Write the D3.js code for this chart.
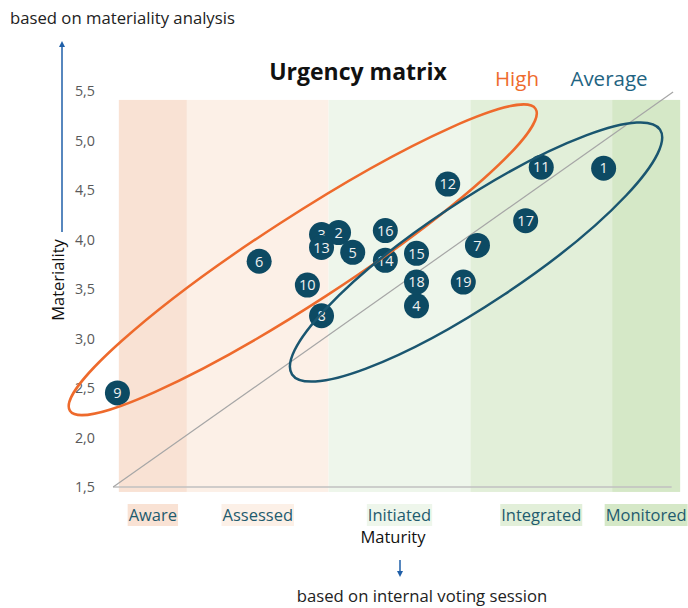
<!DOCTYPE html>
<html>
<head>
<meta charset="utf-8">
<script src="https://cdn.jsdelivr.net/npm/d3@7"></script>
<style>
  html, body { margin: 0; padding: 0; background: #fff; }
  #chart { width: 688px; height: 608px; }
  text { font-family: "Open Sans", "Noto Sans", sans-serif; }
</style>
</head>
<body>
<div id="chart"></div>
<script>
// maturity bands (x extent in maturity units)
const bandNames = ["Aware", "Assessed", "Initiated", "Integrated", "Monitored"];
const bandStart = [1.52, 2, 3, 4, 5];
const bandEnd = [2, 3, 4, 5, 5.48];
const bandColors = ["#f9e2d4", "#fcf0e7", "#eef6eb", "#e2efd9", "#d5e8c7"];

// topics: id, maturity, materiality
const topicIds = [1, 2, 3, 4, 5, 6, 7, 8, 9, 10, 11, 12, 13, 14, 15, 16, 17, 18, 19];
const maturity = [4.94, 3.07, 2.95, 3.62, 3.17, 2.51, 4.05, 2.95, 1.51, 2.85, 4.50, 3.84, 2.95, 3.40, 3.62, 3.40, 4.39, 3.62, 3.95];
const materiality = [4.72, 4.07, 4.05, 3.33, 3.87, 3.78, 3.94, 3.23, 2.45, 3.54, 4.73, 4.56, 3.92, 3.79, 3.86, 4.09, 4.19, 3.57, 3.57];

const yTicks = [1.5, 2.0, 2.5, 3.0, 3.5, 4.0, 4.5, 5.0, 5.5];

// urgency groups drawn as ellipses: major axis ends (data) + half width (px)
const groupNames = ["High", "Average"];
const groupColors = ["#ee6a2c", "#1a5670"];
const groupEnds = [[[1.175, 2.27], [4.46, 5.32]], [[2.742, 2.637], [5.338, 5.11]]];
const groupHalfWidth = [43, 51];

function renderChart(selector = "#chart") {
    const container = d3.select(selector);
    container.html("");

    const width = 688;
    const height = 608;

    const svg = container.append("svg")
        .attr("width", width)
        .attr("height", height)
        .attr("viewBox", `0 0 ${width} ${height}`);

    const x = d3.scaleLinear().domain([1.5, 5.5]).range([116, 683]);
    const y = d3.scaleLinear().domain([1.5, 5.5]).range([487, 91]);

    // background bands
    svg.append("g")
        .selectAll("rect")
        .data(bandNames)
        .join("rect")
        .attr("x", (d, i) => x(bandStart[i]))
        .attr("width", (d, i) => x(bandEnd[i]) - x(bandStart[i]))
        .attr("y", y(5.41))
        .attr("height", y(1.45) - y(5.41))
        .attr("fill", (d, i) => bandColors[i]);

    // band labels with highlight boxes
    const labels = svg.append("g")
        .selectAll("g")
        .data(bandNames)
        .join("g")
        .attr("transform", (d, i) => `translate(${(x(bandStart[i]) + x(bandEnd[i])) / 2},515)`);
    labels.append("text")
        .attr("text-anchor", "middle")
        .attr("dy", "0.35em")
        .attr("font-size", 16.5)
        .attr("fill", "#1f5b6e")
        .text(d => d)
        .each(function (d, i) {
            const b = this.getBBox();
            d3.select(this.parentNode).insert("rect", "text")
                .attr("x", b.x - 1)
                .attr("y", -11)
                .attr("width", b.width + 2)
                .attr("height", 22)
                .attr("fill", bandColors[i]);
        });

    // baseline and diagonal
    svg.append("line")
        .attr("x1", x(1.48)).attr("x2", x(5.42))
        .attr("y1", y(1.5)).attr("y2", y(1.5))
        .attr("stroke", "#c0c0c0").attr("stroke-width", 1.5);
    svg.append("line")
        .attr("x1", x(1.48)).attr("y1", y(1.5))
        .attr("x2", x(5.43)).attr("y2", y(5.49))
        .attr("stroke", "#a6a6a6").attr("stroke-width", 1.2);

    // y axis
    const yAxis = svg.append("g")
        .attr("transform", "translate(100,0)")
        .call(d3.axisLeft(y).tickValues(yTicks).tickSize(0).tickPadding(5)
            .tickFormat(d => d3.format(".1f")(d).replace(".", ",")));
    yAxis.select(".domain").remove();
    yAxis.selectAll("text")
        .attr("font-family", "'Open Sans', sans-serif")
        .attr("font-size", 14.3)
        .attr("fill", "#595959");

    // points
    const pts = svg.append("g")
        .selectAll("g")
        .data(topicIds)
        .join("g")
        .attr("transform", (d, i) => `translate(${x(maturity[i])},${y(materiality[i])})`);
    pts.append("circle")
        .attr("r", 12.5)
        .attr("fill", "#0d4a63");
    pts.append("text")
        .attr("text-anchor", "middle")
        .attr("dy", "0.36em")
        .attr("font-size", 14.5)
        .attr("fill", "#f0f0f0")
        .text(d => d);

    // ellipses
    svg.append("g")
        .selectAll("ellipse")
        .data(groupNames)
        .join("ellipse")
        .each(function (d, i) {
            const [p0, p1] = groupEnds[i];
            const x0 = x(p0[0]), y0 = y(p0[1]), x1 = x(p1[0]), y1 = y(p1[1]);
            const cx = (x0 + x1) / 2, cy = (y0 + y1) / 2;
            const a = Math.hypot(x1 - x0, y1 - y0) / 2;
            const ang = Math.atan2(y1 - y0, x1 - x0) * 180 / Math.PI;
            d3.select(this)
                .attr("cx", 0).attr("cy", 0)
                .attr("rx", a).attr("ry", groupHalfWidth[i])
                .attr("transform", `translate(${cx},${cy}) rotate(${ang})`);
        })
        .attr("fill", "none")
        .attr("stroke", (d, i) => groupColors[i])
        .attr("stroke-width", 2.5);

    // title and legend
    svg.append("text")
        .attr("x", 358).attr("y", 80)
        .attr("text-anchor", "middle")
        .attr("font-size", 23)
        .attr("font-weight", "bold")
        .attr("fill", "#111")
        .text("Urgency matrix");
    svg.append("g")
        .selectAll("text")
        .data(groupNames)
        .join("text")
        .attr("x", (d, i) => [517, 609][i])
        .attr("y", 86)
        .attr("text-anchor", "middle")
        .attr("font-size", 20.5)
        .attr("fill", (d, i) => groupColors[i] === "#1a5670" ? "#1f6482" : groupColors[i])
        .text(d => d);

    // axis titles and arrows
    const arrowBlue = "#1f5fa8";
    svg.append("defs").append("marker")
        .attr("id", "arrowhead")
        .attr("viewBox", "0 0 10 10")
        .attr("refX", 5).attr("refY", 5)
        .attr("markerWidth", 4).attr("markerHeight", 4)
        .attr("orient", "auto")
        .append("path")
        .attr("d", "M0,0 L10,5 L0,10 z")
        .attr("fill", arrowBlue);

    svg.append("text")
        .attr("x", 10).attr("y", 24)
        .attr("font-size", 16.7)
        .attr("fill", "#222")
        .text("based on materiality analysis");
    svg.append("line")
        .attr("x1", 62).attr("y1", 232)
        .attr("x2", 62).attr("y2", 44)
        .attr("stroke", arrowBlue).attr("stroke-width", 1.5)
        .attr("marker-end", "url(#arrowhead)");
    svg.append("text")
        .attr("transform", "translate(64,280) rotate(-90)")
        .attr("text-anchor", "middle")
        .attr("font-size", 16.5)
        .attr("fill", "#111")
        .text("Materiality");

    svg.append("text")
        .attr("x", 393).attr("y", 543)
        .attr("text-anchor", "middle")
        .attr("font-size", 16.5)
        .attr("fill", "#111")
        .text("Maturity");
    svg.append("line")
        .attr("x1", 400).attr("y1", 560)
        .attr("x2", 400).attr("y2", 574)
        .attr("stroke", arrowBlue).attr("stroke-width", 1.5)
        .attr("marker-end", "url(#arrowhead)");
    svg.append("text")
        .attr("x", 422).attr("y", 602)
        .attr("text-anchor", "middle")
        .attr("font-size", 16.7)
        .attr("fill", "#222")
        .text("based on internal voting session");
}

renderChart();
</script>
</body>
</html>
